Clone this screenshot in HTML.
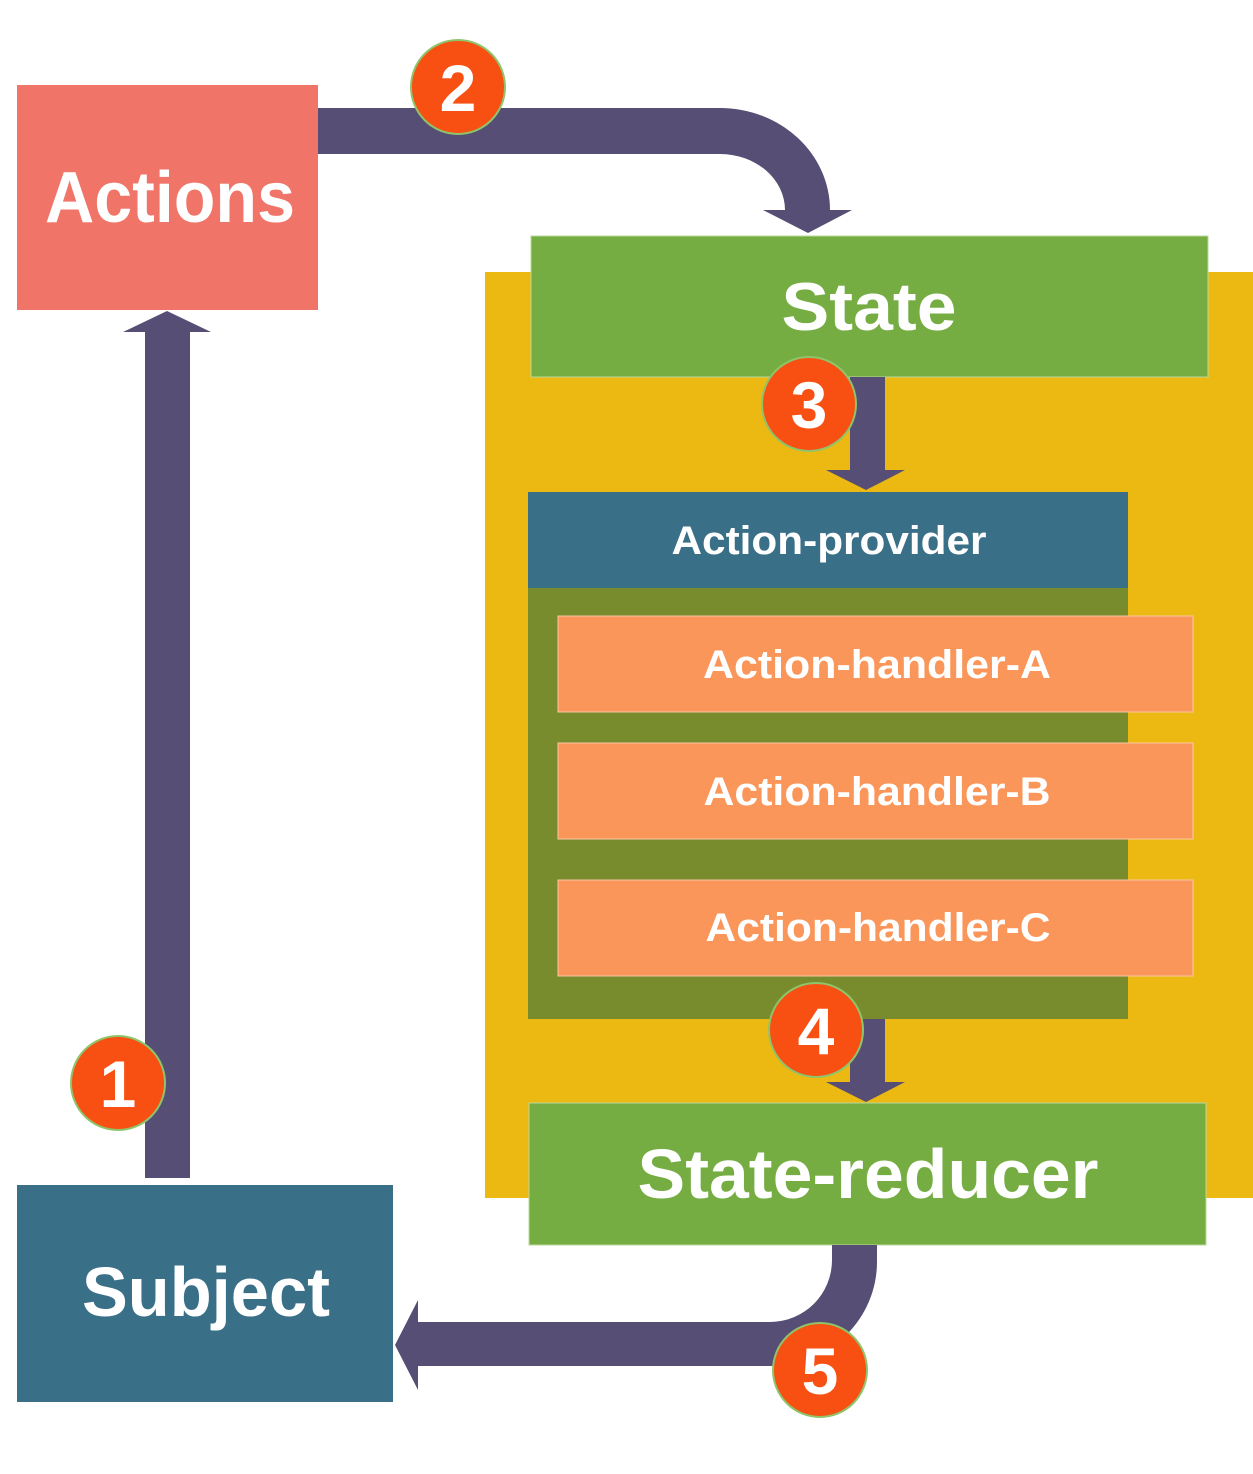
<!DOCTYPE html>
<html><head><style>html,body{margin:0;padding:0;background:#fff}svg{display:block}</style></head>
<body>
<svg width="1253" height="1474" viewBox="0 0 1253 1474" xmlns="http://www.w3.org/2000/svg" font-family="Liberation Sans, sans-serif" font-weight="bold" fill="#fff">
<rect x="485" y="272" width="768" height="926" fill="#EBB912"/>
<rect x="17" y="85" width="301" height="225" fill="#F07468"/>
<text x="170" y="222" font-size="72" text-anchor="middle" textLength="250" lengthAdjust="spacingAndGlyphs">Actions</text>
<!-- arrow 1 -->
<rect x="145" y="332" width="45" height="846" fill="#564E74"/>
<polygon points="123,332 167,311 211,332" fill="#564E74"/>
<!-- arrow 2 -->
<path d="M318,108 L720,108 A110,102 0 0 1 830,210 L852,210 L808,233 L763,210 L785,210 A65,56 0 0 0 720,154 L318,154 Z" fill="#564E74"/>
<rect x="531" y="236" width="677" height="141" fill="#75AD43" stroke="#b9d89a" stroke-width="1"/>
<text x="869" y="330" font-size="68" text-anchor="middle" textLength="175" lengthAdjust="spacingAndGlyphs">State</text>
<!-- arrow 3 -->
<rect x="850" y="377" width="35" height="93" fill="#564E74"/>
<polygon points="826,470 866,490 905,470" fill="#564E74"/>
<rect x="528" y="588" width="600" height="431" fill="#788B2D"/>
<rect x="528" y="492" width="600" height="96" fill="#3A6F88"/>
<text x="829" y="554" font-size="40" text-anchor="middle" textLength="315" lengthAdjust="spacingAndGlyphs">Action-provider</text>
<rect x="558" y="616" width="635" height="96" fill="#FA9659" stroke="#fcc6a4"/>
<text x="877" y="678" font-size="40" text-anchor="middle" textLength="348" lengthAdjust="spacingAndGlyphs">Action-handler-A</text>
<rect x="558" y="743" width="635" height="96" fill="#FA9659" stroke="#fcc6a4"/>
<text x="877" y="805" font-size="40" text-anchor="middle" textLength="347" lengthAdjust="spacingAndGlyphs">Action-handler-B</text>
<rect x="558" y="880" width="635" height="96" fill="#FA9659" stroke="#fcc6a4"/>
<text x="878" y="941" font-size="40" text-anchor="middle" textLength="345" lengthAdjust="spacingAndGlyphs">Action-handler-C</text>
<!-- arrow 4 -->
<rect x="850" y="1019" width="35" height="63" fill="#564E74"/>
<polygon points="826,1082 866,1102 905,1082" fill="#564E74"/>
<rect x="529" y="1103" width="677" height="142" fill="#75AD43" stroke="#b9d89a"/>
<text x="868" y="1198" font-size="70" text-anchor="middle" textLength="461" lengthAdjust="spacingAndGlyphs">State-reducer</text>
<!-- arrow 5 -->
<path d="M877,1245 L877,1262 A107,104 0 0 1 770,1366 L418,1366 L418,1390 L395,1345 L418,1300 L418,1322 L770,1322 A62,62 0 0 0 832,1260 L832,1245 Z" fill="#564E74"/>
<rect x="17" y="1185" width="376" height="217" fill="#3A6F88"/>
<text x="206" y="1316" font-size="70" text-anchor="middle" textLength="248" lengthAdjust="spacingAndGlyphs">Subject</text>
<g stroke="#8fc46a" stroke-width="2" fill="#F84F12">
<circle cx="118" cy="1083" r="47"/>
<circle cx="458" cy="87" r="47"/>
<circle cx="809" cy="404" r="47"/>
<circle cx="816" cy="1030" r="47"/>
<circle cx="820" cy="1370" r="47"/>
</g>
<g font-size="66" text-anchor="middle">
<text x="118" y="1107">1</text>
<text x="458" y="111">2</text>
<text x="809" y="428">3</text>
<text x="816" y="1054">4</text>
<text x="820" y="1394">5</text>
</g>
</svg>
</body></html>
